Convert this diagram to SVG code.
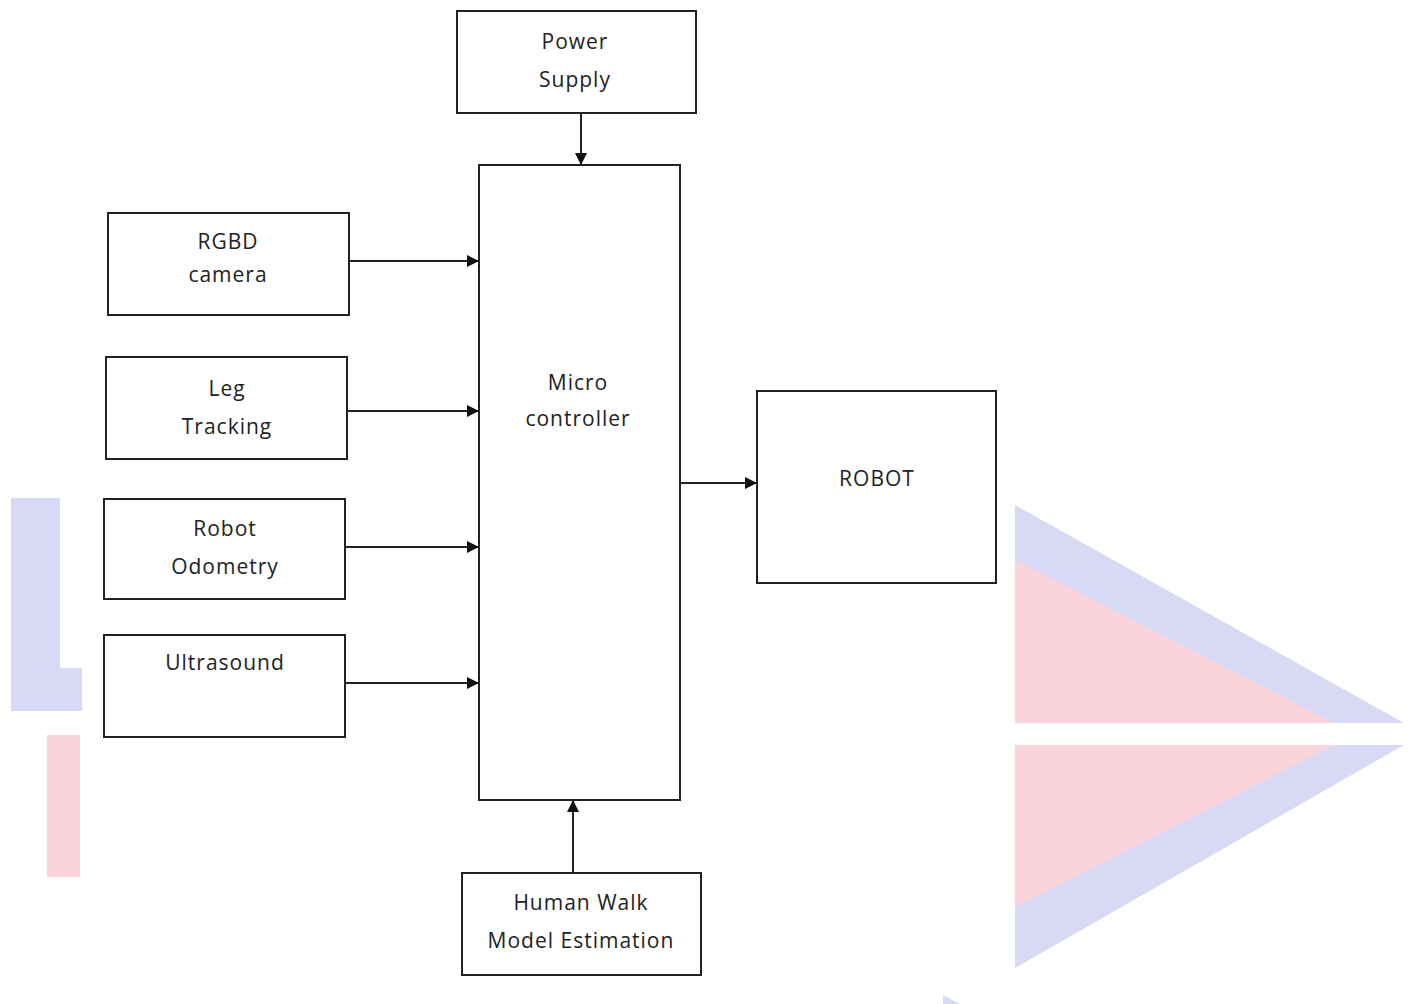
<svg xmlns="http://www.w3.org/2000/svg" width="1411" height="1004" viewBox="0 0 1411 1004">
<style>
.box{fill:none;stroke:#222;stroke-width:2}
.wbox{fill:#fff;stroke:#222;stroke-width:2}
.lbl{font-family:"Open Sans",sans-serif;font-size:21px;letter-spacing:1px;fill:#222;text-anchor:middle}
.con{stroke:#222;stroke-width:2;fill:none;marker-end:url(#ah)}
.wb{fill:#d8d9f5}
.wp{fill:#fad4da}
</style>
<defs>
<marker id="ah" viewBox="0 0 10 10" refX="10" refY="5" markerWidth="6" markerHeight="6" orient="auto" markerUnits="strokeWidth">
<path d="M0,0 L10,5 L0,10 z" fill="#111"/>
</marker>
</defs>
<rect width="1411" height="1004" fill="#fff"/>
<g id="watermark">
<path class="wb" d="M11,498 H60 V668 H82 V711 H11 z"/>
<rect class="wp" x="47" y="735" width="33" height="142"/>
<polygon class="wb" points="1015,505 1404,723 1015,723"/>
<polygon class="wp" points="1015,560 1334,723 1015,723"/>
<polygon class="wb" points="1015,745 1404,745 1015,968"/>
<polygon class="wp" points="1015,745 1334,745 1015,907"/>
<polygon class="wb" points="943,995 960,1004 943,1004"/>
</g>
<g id="connectors">
<line class="con" x1="581" y1="113" x2="581" y2="165"/>
<line class="con" x1="349" y1="261" x2="479" y2="261"/>
<line class="con" x1="347" y1="411" x2="479" y2="411"/>
<line class="con" x1="345" y1="547" x2="479" y2="547"/>
<line class="con" x1="345" y1="683" x2="479" y2="683"/>
<line class="con" x1="680" y1="483" x2="757" y2="483"/>
<line class="con" x1="573" y1="873" x2="573" y2="800"/>
</g>
<g id="power">
<rect class="box" x="457" y="11" width="239" height="102"/>
<text class="lbl" x="575" y="49">Power</text>
<text class="lbl" x="575" y="87">Supply</text>
</g>
<g id="micro">
<rect class="box" x="479" y="165" width="201" height="635"/>
<text class="lbl" x="578" y="390">Micro</text>
<text class="lbl" x="578" y="426">controller</text>
</g>
<g id="rgbd">
<rect class="box" x="108" y="213" width="241" height="102"/>
<text class="lbl" x="228" y="249">RGBD</text>
<text class="lbl" x="228" y="282">camera</text>
</g>
<g id="leg">
<rect class="box" x="106" y="357" width="241" height="102"/>
<text class="lbl" x="227" y="396">Leg</text>
<text class="lbl" x="227" y="434">Tracking</text>
</g>
<g id="odometry">
<rect class="wbox" x="104" y="499" width="241" height="100"/>
<text class="lbl" x="225" y="536">Robot</text>
<text class="lbl" x="225" y="574">Odometry</text>
</g>
<g id="ultrasound">
<rect class="wbox" x="104" y="635" width="241" height="102"/>
<text class="lbl" x="225" y="670">Ultrasound</text>
</g>
<g id="robot">
<rect class="box" x="757" y="391" width="239" height="192"/>
<text class="lbl" x="877" y="486">ROBOT</text>
</g>
<g id="human">
<rect class="box" x="462" y="873" width="239" height="102"/>
<text class="lbl" x="581" y="910">Human Walk</text>
<text class="lbl" x="581" y="948">Model Estimation</text>
</g>
</svg>
